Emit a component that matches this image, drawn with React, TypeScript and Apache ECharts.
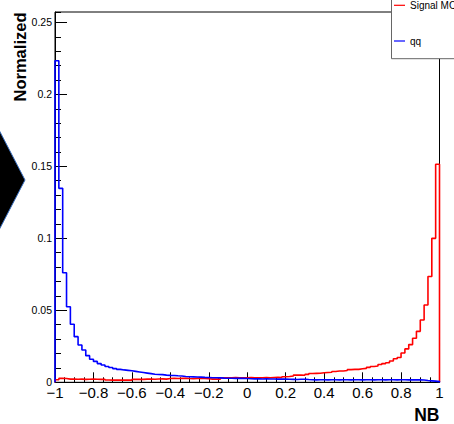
import React, { useEffect, useRef } from "react";
import * as echarts from "echarts";

const X_MIN = -1;
const X_MAX = 1;
const BIN_WIDTH = 0.02;

const signalMC = [
  0.0018, 0.0027, 0.0026, 0.0022, 0.0023, 0.0021, 0.0022, 0.002, 0.0021, 0.0022,
  0.0021, 0.002, 0.0021, 0.0016, 0.0015, 0.0015, 0.0016, 0.0015, 0.0016, 0.0015,
  0.002, 0.0021, 0.002, 0.0022, 0.0023, 0.0021, 0.0023, 0.0024, 0.0022, 0.0026,
  0.0027, 0.0026, 0.0027, 0.0028, 0.0026, 0.0025, 0.0027, 0.0028, 0.0026, 0.0025,
  0.0022, 0.0023, 0.0022, 0.0031, 0.0032, 0.0031, 0.0033, 0.0032, 0.0031, 0.0032,
  0.0033, 0.0032, 0.0031, 0.0032, 0.0033, 0.0032, 0.0033, 0.0034, 0.0033, 0.0039,
  0.004, 0.0044, 0.005, 0.0051, 0.0049, 0.0055, 0.0061, 0.0062, 0.0063, 0.0066,
  0.0068, 0.007, 0.0075, 0.0078, 0.0079, 0.0082, 0.0088, 0.009, 0.009, 0.0094,
  0.0097, 0.0104, 0.011, 0.0113, 0.0124, 0.013, 0.0136, 0.0148, 0.0164, 0.0172,
  0.0203, 0.0232, 0.0262, 0.0306, 0.0354, 0.0433, 0.0537, 0.0735, 0.1, 0.1514,
];

const qq = [
  0.2233, 0.1347, 0.0761, 0.0525, 0.0403, 0.0317, 0.0259, 0.0224, 0.0185, 0.016,
  0.0145, 0.013, 0.012, 0.011, 0.0103, 0.0095, 0.009, 0.0086, 0.0083, 0.008,
  0.0076, 0.0072, 0.0068, 0.0064, 0.006, 0.0056, 0.0054, 0.0053, 0.005, 0.0048,
  0.0047, 0.0045, 0.0044, 0.004, 0.0039, 0.0038, 0.0037, 0.0036, 0.0034, 0.0033,
  0.0032, 0.0032, 0.0031, 0.0029, 0.0028, 0.0028, 0.0027, 0.0028, 0.0027, 0.0026,
  0.0025, 0.0024, 0.0024, 0.0023, 0.0024, 0.0023, 0.0023, 0.0022, 0.0023, 0.0022,
  0.0021, 0.002, 0.0019, 0.0021, 0.0021, 0.0019, 0.0018, 0.0017, 0.0018, 0.0018,
  0.0017, 0.0018, 0.0018, 0.0017, 0.0018, 0.0018, 0.0017, 0.0018, 0.0018, 0.0017,
  0.0018, 0.0018, 0.0017, 0.0018, 0.0018, 0.0017, 0.0018, 0.0018, 0.0017, 0.0018,
  0.0018, 0.0017, 0.0018, 0.0017, 0.0017, 0.0016, 0.0012, 0.001, 0.0008, 0.0005,
];

const seriesNames = ["Signal MC", "qq"];
const xTitle = "NB";
const yTitle = "Normalized";

function histPoints(values: number[]): number[][] {
  const pts: number[][] = [[X_MIN, 0]];
  values.forEach((v, i) => {
    const lo = +(X_MIN + i * BIN_WIDTH).toFixed(4);
    const hi = +(X_MIN + (i + 1) * BIN_WIDTH).toFixed(4);
    pts.push([lo, v], [hi, v]);
  });
  pts.push([X_MAX, 0]);
  return pts;
}

const FONT = "'Liberation Sans', Arial, Helvetica, sans-serif";

export default function App() {
  const ref = useRef<HTMLDivElement>(null);
  useEffect(() => {
    if (!ref.current) return;
    const chart = echarts.init(ref.current, undefined, { renderer: "svg" });
    const yMax = 0.2572;
    chart.setOption({
      animation: false,
      backgroundColor: "#fff",
      grid: {
        left: 55,
        right: 14.5,
        top: 12,
        bottom: 41.7,
        show: true,
        borderColor: "#000",
        borderWidth: 1,
        backgroundColor: "transparent",
      },
      legend: {
        orient: "vertical",
        left: 391.5,
        top: -20,
        padding: [20.3, 40, 12.7, 2.5],
        itemGap: 25.7,
        itemWidth: 11,
        itemHeight: 10,
        icon: "path://M0,4.4 L11,4.4 L11,5.6 L0,5.6 Z",
        selectedMode: false,
        backgroundColor: "#fff",
        borderColor: "#666",
        borderWidth: 1,
        borderRadius: 0,
        textStyle: { fontSize: 10, fontFamily: FONT, color: "#000" },
        data: seriesNames,
      },
      xAxis: {
        type: "value",
        min: X_MIN,
        max: X_MAX,
        interval: 0.2,
        axisLine: { show: true, onZero: false, lineStyle: { color: "#000", width: 1 } },
        axisTick: { show: true, inside: true, length: 10, lineStyle: { color: "#000" } },
        minorTick: { show: true, splitNumber: 4, length: 5, lineStyle: { color: "#000" } },
        splitLine: { show: false },
        axisLabel: {
          fontSize: 15,
          fontFamily: FONT,
          color: "#000",
          margin: 3,
          formatter: (v: number) => {
            const r = Math.round(v * 10) / 10;
            if (r === 0) return "0";
            return String(r).replace("-", "\u2212");
          },
        },
      },
      yAxis: [
        {
          type: "value",
          min: 0,
          max: yMax,
          interval: 0.05,
          position: "left",
          axisLine: { show: true, onZero: false, lineStyle: { color: "#000", width: 1 } },
          axisTick: { show: true, inside: true, length: 12, lineStyle: { color: "#000" } },
          splitLine: { show: false },
          axisLabel: {
            fontSize: 10.5,
            fontFamily: FONT,
            color: "#000",
            margin: 3,
            showMaxLabel: false,
            formatter: (v: number) => {
              const r = Math.round(v * 100) / 100;
              return String(r);
            },
          },
        },
        {
          type: "value",
          min: 0,
          max: yMax,
          interval: 0.01,
          position: "left",
          axisLine: { show: false, onZero: false },
          axisTick: { show: true, inside: true, length: 6, lineStyle: { color: "#000" } },
          splitLine: { show: false },
          axisLabel: { show: false },
        },
      ],
      series: [
        {
          name: seriesNames[0],
          type: "line",
          data: histPoints(signalMC),
          showSymbol: false,
          symbol: "none",
          color: "#ff0000",
          lineStyle: { color: "#ff0000", width: 1.6 },
          yAxisIndex: 0,
          z: 2,
        },
        {
          name: seriesNames[1],
          type: "line",
          data: histPoints(qq),
          showSymbol: false,
          symbol: "none",
          color: "#0000ff",
          lineStyle: { color: "#0000ff", width: 1.6 },
          yAxisIndex: 0,
          z: 3,
        },
      ],
      graphic: [
        {
          type: "text",
          x: 20,
          y: 57,
          rotation: Math.PI / 2,
          style: {
            text: yTitle,
            fontSize: 16.5,
            fontWeight: "bold",
            fontFamily: FONT,
            fill: "#000",
            align: "center",
            verticalAlign: "middle",
          },
        },
        {
          type: "text",
          x: 439.5,
          y: 414.5,
          style: {
            text: xTitle,
            fontSize: 17.5,
            fontWeight: "bold",
            fontFamily: FONT,
            fill: "#000",
            align: "right",
            verticalAlign: "middle",
          },
        },
        {
          type: "polygon",
          shape: { points: [[-30, 74], [25, 180], [-30, 286]] },
          style: { fill: "#000", stroke: "#3a70c0", lineWidth: 1 },
          z: 10,
        },
      ],
    });
    return () => chart.dispose();
  }, []);
  return (
    <div
      ref={ref}
      style={{ position: "fixed", left: 0, top: 0, width: 454, height: 424 }}
    />
  );
}
